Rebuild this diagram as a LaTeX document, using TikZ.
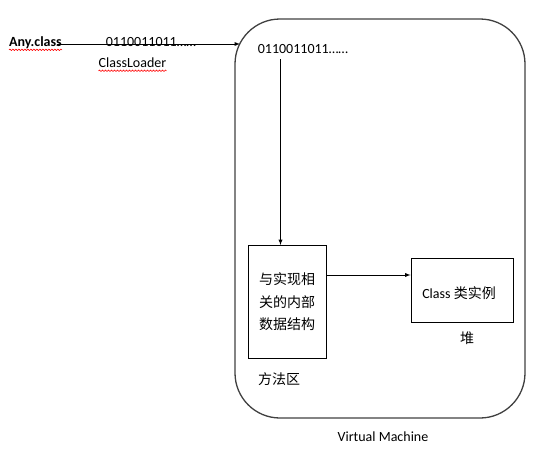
\documentclass[tikz,border=0pt]{standalone}
\usepackage{fontspec}
\setmainfont{Carlito}
\newfontfamily\cjk{Noto Sans CJK SC}
\usetikzlibrary{arrows,positioning,decorations.pathmorphing}

\begin{document}
\begin{tikzpicture}[x=1pt,y=-1pt,arrow/.style = {line width=0.9pt,-latex}]
				\tikzset{box/.style={draw,rectangle,line width=0.9pt,inner sep=0pt,align=center}}
				\tikzset{txt/.style={inner sep=0pt,align=center,font=\fontsize{14}{22.5}\selectfont}}
				\tikzset{squiggle/.style={red,line width=0.6pt,decorate,decoration={snake,amplitude=0.7pt,segment length=3pt}}}

				\useasboundingbox (0,0) rectangle (549,466);

				\node[box, draw=black!75, line width=1.3pt, rounded corners=45pt, minimum width=290pt, minimum height=399pt] (vm) at (380,218.5) {};

				\node[txt, font=\fontsize{14}{16}\selectfont\bfseries] (anyclass) at (35.5,43) {Any.class};
				\node[txt] (bitsout) at (151,42.5) {0110011011……};
				\node[txt] (loader) at (132.5,63) {ClassLoader};
				\node[txt] (bitsin) at (303,49) {0110011011……};

				\node[box, minimum width=78pt, minimum height=113pt] (methodbox) at (287,302) {};
				\node[txt] (methodtxt) at (287,302) {\cjk 与实现相\\\cjk 关的内部\\\cjk 数据结构};
				\node[box, minimum width=102pt, minimum height=64pt] (heapbox) at (462,290) {};
				\node[txt] (heaptxt) at (459,293) {Class {\cjk 类实例}};

				\node[txt] (heap) at (467,338) {\cjk 堆};
				\node[txt] (method) at (279,379) {\cjk 方法区};
				\node[txt] (vmname) at (383,437) {Virtual Machine};

				\coordinate (vmin) at (240,44);
				\coordinate (drop) at (280.5,59);

				\draw [arrow] ([xshift=-5pt]anyclass.east |- vmin) -- (vmin);
				\draw [arrow] (drop) -- (drop |- methodbox.north);
				\draw [arrow] (methodbox.east |- 0,275) -- (heapbox.west |- 0,275);

				\draw [squiggle] ([yshift=-3pt]anyclass.base west) -- ([yshift=-3pt]anyclass.base east);
				\draw [squiggle] ([yshift=-3pt]loader.base west) -- ([yshift=-3pt]loader.base east);

			\end{tikzpicture}
\end{document}
